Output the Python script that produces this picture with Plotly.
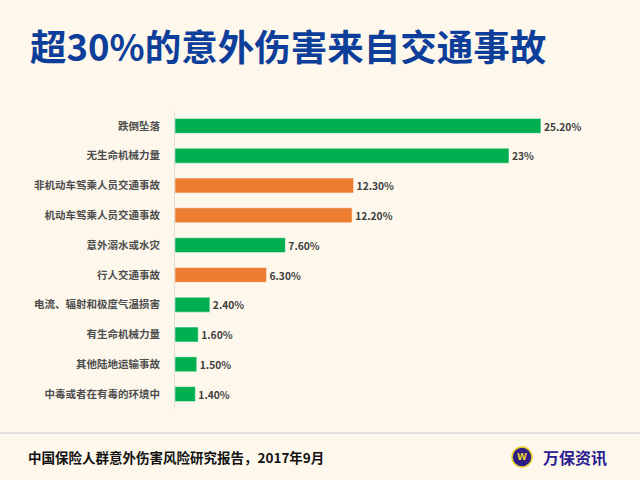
import plotly.graph_objects as go

categories = ['跌倒坠落', '无生命机械力量', '非机动车驾乘人员交通事故', '机动车驾乘人员交通事故',
              '意外溺水或水灾', '行人交通事故', '电流、辐射和极度气温损害', '有生命机械力量',
              '其他陆地运输事故', '中毒或者在有毒的环境中']
values = [25.2, 23, 12.3, 12.2, 7.6, 6.3, 2.4, 1.6, 1.5, 1.4]
value_labels = ['25.20%', '23%', '12.30%', '12.20%', '7.60%', '6.30%', '2.40%', '1.60%', '1.50%', '1.40%']
title_text = '超30%的意外伤害来自交通事故'
source_text = '中国保险人群意外伤害风险研究报告，2017年9月'
brand_text = '万保资讯'

W, H = 640, 480
L, R, T, B = 175, 20, 111, 71
bg = '#FEF8EC'
green = '#00B050'
orange = '#ED7D31'
font_cn = 'Noto Sans CJK SC'


def px_x(px):
    return (px - L) / (W - L - R)


def px_y(py):
    return (H - B - py) / (H - T - B)


# traffic related causes are highlighted in orange
colors = [orange if '交通' in c else green for c in categories]

fig = go.Figure()
fig.add_trace(go.Bar(
    x=values, y=categories, orientation='h',
    marker=dict(color=colors, line=dict(color='rgba(255,255,255,0.45)', width=1)),
    text=value_labels, textposition='outside', cliponaxis=False,
    textfont=dict(family=font_cn, size=11, color='#3c3c3c', weight='bold'),
    hoverinfo='skip'
))

fig.update_xaxes(range=[0, (W - L - R) / 14.52], visible=False)
fig.update_yaxes(
    autorange='reversed', showline=True, linecolor='#e0ddd5', linewidth=1,
    showgrid=False, ticks='', ticklabelstandoff=12,
    tickfont=dict(family=font_cn, size=10.5, color='#4d4d4d', weight='bold')
)

# separator line above the footer
fig.add_shape(type='line', xref='paper', yref='paper',
              x0=px_x(0), x1=px_x(W), y0=px_y(433), y1=px_y(433),
              line=dict(color='#d9d9d9', width=1.5))

# brand logo circle
cx, cy, r = 522, 457, 10
fig.add_shape(type='circle', xref='paper', yref='paper',
              x0=px_x(cx - r), x1=px_x(cx + r), y0=px_y(cy + r), y1=px_y(cy - r),
              fillcolor='#2E1C86', line=dict(color='#E8D22A', width=1.5))

fig.add_annotation(x=px_x(cx), y=px_y(cy), xref='paper', yref='paper', text='<b>W</b>',
                   showarrow=False, xanchor='center', yanchor='middle',
                   font=dict(family='DejaVu Sans', size=9, color='#E8D22A'))
fig.add_annotation(x=px_x(541), y=px_y(457), xref='paper', yref='paper', text=brand_text,
                   showarrow=False, xanchor='left', yanchor='middle',
                   font=dict(family=font_cn, size=16, color='#2B2090', weight='bold'))
fig.add_annotation(x=px_x(26), y=px_y(457), xref='paper', yref='paper', text=source_text,
                   showarrow=False, xanchor='left', yanchor='middle',
                   font=dict(family=font_cn, size=13.5, color='#111111', weight='bold'))

fig.update_layout(
    width=W, height=H,
    margin=dict(l=L, r=R, t=T, b=B),
    paper_bgcolor=bg, plot_bgcolor=bg,
    bargap=0.5, showlegend=False,
    title=dict(text=title_text, x=30 / W, xanchor='left', xref='container',
               y=1 - 48 / H, yanchor='middle', yref='container',
               font=dict(family=font_cn, size=36.5, color='#0D3E99', weight='bold'))
)

fig.write_html('out.html', config={'displayModeBar': False},
               post_script="document.body.style.margin='0';")
